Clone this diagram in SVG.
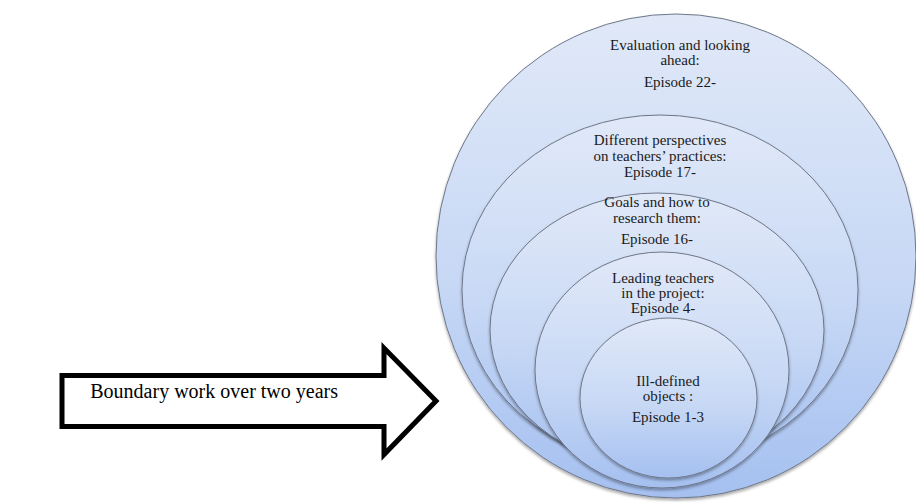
<svg xmlns="http://www.w3.org/2000/svg" width="916" height="502" viewBox="0 0 916 502">
  <style>
    .ring { fill: url(#blueGrad); stroke: #6e7789; stroke-width: 1; filter: url(#shadow); }
    .lbl { font-family: "Liberation Serif", "Times New Roman", serif; font-size: 15px; fill: #1a1a1a; text-anchor: middle; }
    .arrowTxt { font-family: "Liberation Serif", "Times New Roman", serif; font-size: 20px; fill: #000; }
  </style>
  <defs>
    <linearGradient id="blueGrad" x1="0" y1="0" x2="0" y2="1">
      <stop offset="0" stop-color="#e1e9f8"/>
      <stop offset="0.55" stop-color="#c7d8f5"/>
      <stop offset="1" stop-color="#a5c0f0"/>
    </linearGradient>
    <filter id="shadow" x="-10%" y="-10%" width="120%" height="125%">
      <feDropShadow dx="0" dy="2" stdDeviation="1.5" flood-color="#000" flood-opacity="0.35"/>
    </filter>
  </defs>
  <rect width="916" height="502" fill="#ffffff"/>

  <g id="connectors">
    <path id="arrow" d="M62,375.5 L384,375.5 L384,348 L436,401 L384,454.5 L384,426.5 L62,426.5 Z" fill="#ffffff" stroke="#000000" stroke-width="5" stroke-linejoin="miter"/>
    <text class="arrowTxt" x="338" y="398" text-anchor="end">Boundary work over two years</text>
  </g>

  <g id="node-evaluation">
    <ellipse class="ring" cx="676" cy="256" rx="240" ry="242"/>
    <text class="lbl" x="680" y="50">Evaluation and looking</text>
    <text class="lbl" x="680" y="65">ahead:</text>
    <text class="lbl" x="680" y="87">Episode 22-</text>
  </g>

  <g id="node-perspectives">
    <ellipse class="ring" cx="660" cy="290" rx="198" ry="175"/>
    <text class="lbl" x="660" y="145">Different perspectives</text>
    <text class="lbl" x="660" y="161">on teachers’ practices:</text>
    <text class="lbl" x="660" y="177">Episode 17-</text>
  </g>

  <g id="node-goals">
    <ellipse class="ring" cx="657" cy="330" rx="167" ry="137"/>
    <text class="lbl" x="657" y="207">Goals and how to</text>
    <text class="lbl" x="657" y="223">research them:</text>
    <text class="lbl" x="657" y="244">Episode 16-</text>
  </g>

  <g id="node-leading">
    <ellipse class="ring" cx="662" cy="370" rx="127" ry="118"/>
    <text class="lbl" x="663" y="283">Leading teachers</text>
    <text class="lbl" x="663" y="298">in the project:</text>
    <text class="lbl" x="663" y="313">Episode 4-</text>
  </g>

  <g id="node-illdefined">
    <ellipse class="ring" cx="668.5" cy="398" rx="88.5" ry="80"/>
    <text class="lbl" x="668" y="386">Ill-defined</text>
    <text class="lbl" x="668" y="401">objects :</text>
    <text class="lbl" x="668" y="422">Episode 1-3</text>
  </g>
</svg>
